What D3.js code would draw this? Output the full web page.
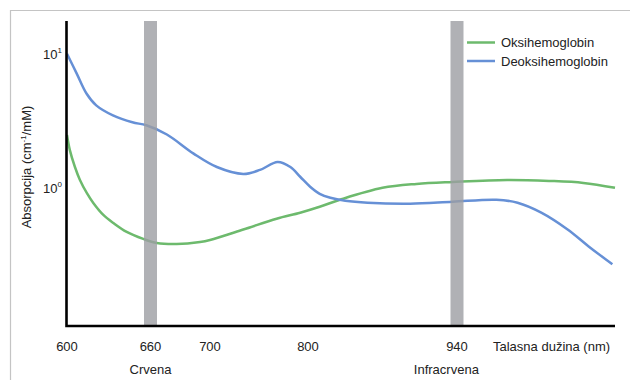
<!DOCTYPE html>
<html><head><meta charset="utf-8">
<script src="https://cdn.jsdelivr.net/npm/d3@7"></script>
<style>body{margin:0;background:#fff}svg{display:block}text{font-family:"Liberation Sans",Arial,sans-serif;fill:#222}</style>
</head><body>
<svg id="c" width="630" height="380"></svg>
<script>
// Data
const xTicks = [600, 660, 700, 800, 940];
const bands = [660, 940];
const bandLabels = ["Crvena", "Infracrvena"];
const bandLabelPos = [660, 930];
const seriesNames = ["Oksihemoglobin", "Deoksihemoglobin"];
const oxyWl  = [600, 602, 605.7, 609.3, 614.2, 618.9, 626.1, 633.3, 642.9, 654.8, 664.2, 677.6, 693.3, 700, 734, 768, 792, 811, 830, 870, 902, 936, 959, 975, 988, 1000];
const oxyVal = [2.48, 1.92, 1.43, 1.145, 0.916, 0.771, 0.628, 0.547, 0.469, 0.416, 0.388, 0.381, 0.395, 0.409, 0.489, 0.589, 0.653, 0.723, 0.815, 1.0, 1.07, 1.107, 1.146, 1.127, 1.089, 1.0];
const deoxyWl  = [600, 607, 614, 621, 633, 647, 657, 671, 689, 707, 734, 751, 769, 782, 792, 802, 811, 821, 835, 856, 896, 936, 955, 963, 972, 982, 990, 999];
const deoxyVal = [10.0, 7.11, 5.05, 4.12, 3.47, 3.08, 2.93, 2.50, 1.80, 1.43, 1.27, 1.36, 1.56, 1.43, 1.21, 1.02, 0.903, 0.843, 0.801, 0.774, 0.761, 0.788, 0.815, 0.774, 0.653, 0.489, 0.366, 0.269];
const yTickExp = [1, 0];

const svg = d3.select("#c");
// frame
svg.append("path").attr("d","M10.5,380V10.5H630").attr("fill","none").attr("stroke","#c4c4c4").attr("stroke-width",1.2);

const x = d3.scaleLinear().domain([600, 660, 700, 800, 940, 1000]).range([67, 150.5, 210, 308, 457, 615]);
const y = d3.scaleLog().domain([Math.pow(10,-1.03), Math.pow(10,1.244)]).range([326, 21]);
const colors = ["#6dba6d", "#6690d6"];

const line = d3.line().x(d=>x(d[0])).y(d=>y(d[1])).curve(d3.curveCatmullRom.alpha(0.5));
const oxy = oxyWl.map((w,i)=>[w, oxyVal[i]]);
const deoxy = deoxyWl.map((w,i)=>[w, deoxyVal[i]]);
[oxy, deoxy].forEach((s,i)=>{
  svg.append("path").attr("d", line(s)).attr("fill","none").attr("stroke",colors[i]).attr("stroke-width",2.5).attr("stroke-linejoin","round");
});

// bands
bands.forEach(b=>{
  svg.append("rect").attr("x", x(b)-6.5).attr("width",13).attr("y",21).attr("height",326-21).attr("fill","#9c9da2").attr("opacity",0.8);
});

// axes
svg.append("path").attr("d",`M${x(600)-0.5},21V${y.range()[0]}H615`).attr("fill","none").attr("stroke","#000").attr("stroke-width",2.6);

// x tick labels
xTicks.forEach(t=>{
  svg.append("text").attr("x", x(t)).attr("y", 351).attr("text-anchor","middle").attr("font-size",13).text(t);
});
svg.append("text").attr("x", 493).attr("y", 351).attr("font-size",13).text("Talasna dužina (nm)");
bandLabels.forEach((l,i)=>{
  svg.append("text").attr("x", x(bandLabelPos[i])).attr("y", 374).attr("text-anchor","middle").attr("font-size",13).text(l);
});

// y tick labels
yTickExp.forEach(e=>{
  const t = svg.append("text").attr("x", 43).attr("y", y(Math.pow(10,e))+5).attr("font-size",13);
  t.append("tspan").text("10");
  t.append("tspan").attr("font-size",8).attr("dy",-6).text(e);
});

// y title
const yt = svg.append("text").attr("transform","translate(31,167) rotate(-90)").attr("text-anchor","middle").attr("font-size",13);
yt.append("tspan").text("Absorpcija  (cm");
yt.append("tspan").attr("font-size",8).attr("dy",-5).text("-1");
yt.append("tspan").attr("dy",5).text("/mM)");

// legend
seriesNames.forEach((n,i)=>{
  const ly = 42.5 + i*18.5;
  svg.append("line").attr("x1",467).attr("x2",495).attr("y1",ly).attr("y2",ly).attr("stroke",colors[i]).attr("stroke-width",2.5);
  svg.append("text").attr("x",501).attr("y",ly+4.5).attr("font-size",13).text(n);
});
</script>
</body></html>
